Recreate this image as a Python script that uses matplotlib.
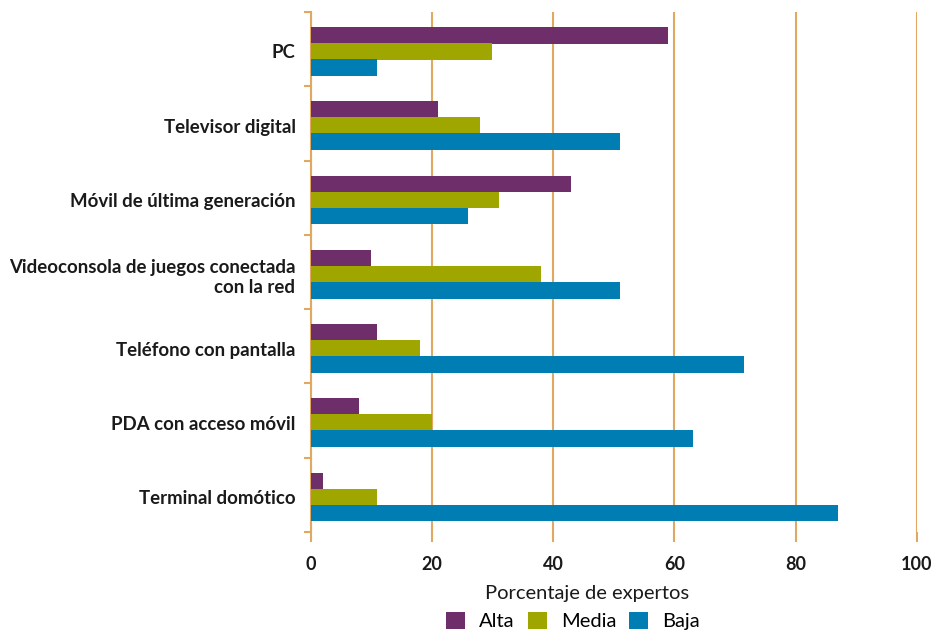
import matplotlib
matplotlib.use("Agg")
import matplotlib.pyplot as plt
import numpy as np
from matplotlib.patches import Patch

categories = ["PC", "Televisor digital", "Móvil de última generación",
              "Videoconsola de juegos conectada\ncon la red", "Teléfono con pantalla",
              "PDA con acceso móvil", "Terminal domótico"]
alta = [59, 21, 43, 10, 11, 8, 2]
media = [30, 28, 31, 38, 18, 20, 11]
baja = [11, 51, 26, 51, 71.5, 63, 87]
series_names = ["Alta", "Media", "Baja"]
xticks = [0, 20, 40, 60, 80, 100]

colors = ["#6E2E6A", "#A0A600", "#007DB2"]
grid_c = "#E0A860"

plt.rcParams['font.family'] = ['Lato', 'DejaVu Sans']

fig = plt.figure(figsize=(9.31, 6.32), dpi=100)
ax = fig.add_axes([310.5/931, 1-532/632, (917-310.5)/931, (532-12)/632])

n = len(categories)
y = np.arange(n) + 0.03
h = 0.215
for vals, off, c in zip([alta, media, baja], [-h, 0, h], colors):
    ax.barh(y + off, vals, height=h + 0.01, color=c, zorder=3, linewidth=0)

ax.set_ylim(n - 0.5, -0.5)
ax.set_xlim(0, 100)
ax.set_yticks(y)
ax.set_yticklabels(categories, fontsize=13.4, fontweight='bold', color='#1a1a1a',
                   linespacing=1.2)
ax.set_yticks(np.arange(n + 1) - 0.5, minor=True)
ax.tick_params(axis='y', which='major', length=0, pad=10.8)
ax.tick_params(axis='y', which='minor', length=5, color=grid_c, width=1.5)
ax.set_xticks(xticks)
ax.set_xticklabels([str(v) for v in xticks], fontsize=13, fontweight='bold', color='#1a1a1a')
ax.tick_params(axis='x', length=7, color=grid_c, width=1.5, pad=10)
ax.grid(axis='x', color=grid_c, linewidth=1.5, zorder=0)
for s in ['top', 'right', 'bottom']:
    ax.spines[s].set_visible(False)
ax.spines['left'].set_color(grid_c)
ax.spines['left'].set_linewidth(1.5)

fig.text(587/931, 1-594/632, "Porcentaje de expertos", ha='center', va='center',
         fontsize=14.5, color='#1a1a1a')

handles = [Patch(facecolor=c, edgecolor='none') for c in colors]
fig.legend(handles, series_names, loc='center', bbox_to_anchor=(573/931, 1-621/632),
           ncol=3, frameon=False, fontsize=14.5, handlelength=0.95, handleheight=0.95,
           columnspacing=0.65, handletextpad=0.7, borderaxespad=0, borderpad=0)

fig.savefig("out.png", dpi=100)
